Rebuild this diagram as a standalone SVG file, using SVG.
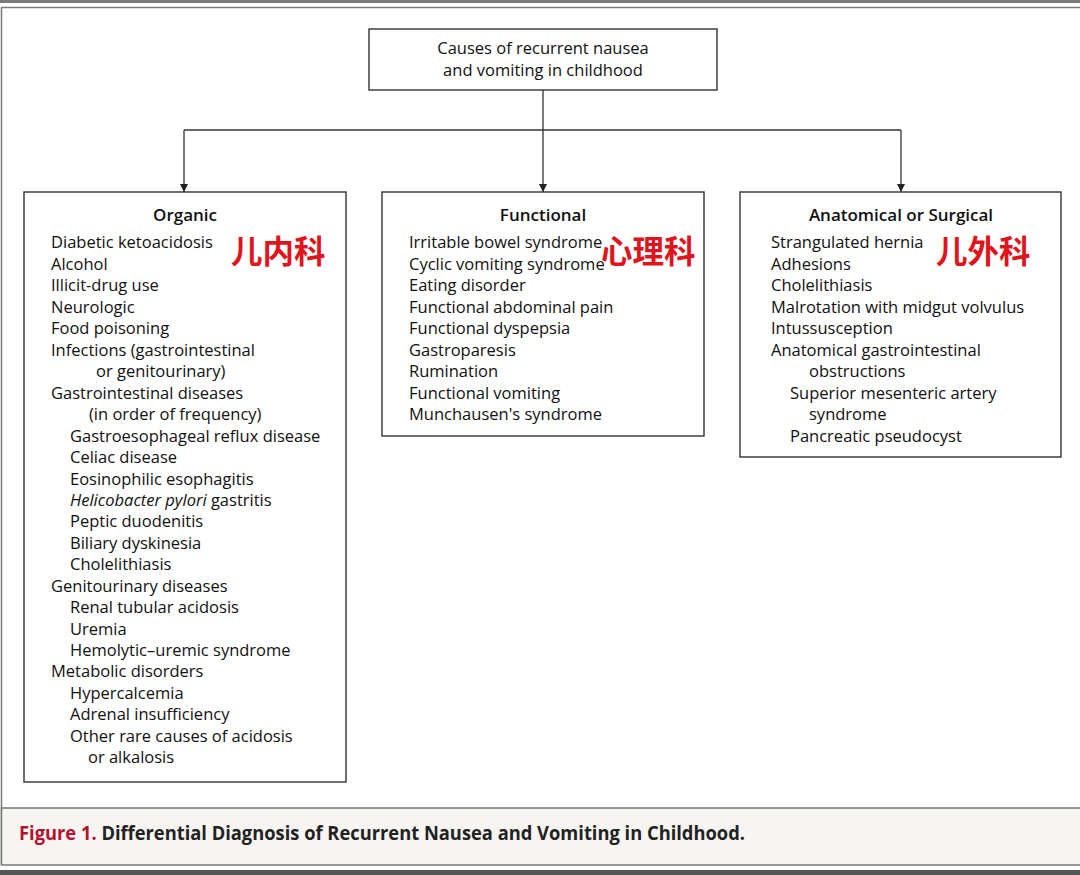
<svg xmlns="http://www.w3.org/2000/svg" width="1080" height="875" viewBox="0 0 1080 875">
<defs>
<marker id="arr" viewBox="0 0 8 16" refX="8" refY="8" markerWidth="8" markerHeight="16" markerUnits="userSpaceOnUse" orient="auto">
<path d="M0,4 L8,8 L0,12 Z" fill="#222"/>
</marker>
<style>
.box{fill:#fff;stroke:#333;stroke-width:1.4}
.t{font-family:"Open Sans","DejaVu Sans",sans-serif;font-size:16.5px;fill:#111}
.h{font-family:"Open Sans","DejaVu Sans",sans-serif;font-size:17px;font-weight:600;fill:#111;text-anchor:middle}
.cn{font-family:"Noto Sans CJK SC",sans-serif;font-size:31.5px;font-weight:700;fill:#e0141c}
.conn{fill:none;stroke:#333;stroke-width:1.3}
</style>
</defs>
<rect x="0" y="0" width="1080" height="875" fill="#fff"/>
<rect x="0" y="0" width="1080" height="3" fill="#7a7a7a"/>
<rect x="0" y="870" width="1080" height="5" fill="#555"/>
<path d="M1080,7.5 H1.5 V865" fill="none" stroke="#777" stroke-width="1.5"/>
<rect x="1.5" y="808" width="1080" height="57" fill="#f7f5f2" stroke="#777" stroke-width="1.5"/>
<g id="caption">
<text x="19" y="840" font-family="'Liberation Sans Narrow','Open Sans',sans-serif" font-size="19" font-weight="700" textLength="726" lengthAdjust="spacingAndGlyphs"><tspan fill="#b3122e">Figure 1.</tspan><tspan fill="#222"> Differential Diagnosis of Recurrent Nausea and Vomiting in Childhood.</tspan></text>
</g>
<g id="connectors">
<path class="conn" d="M543,90 V192" marker-end="url(#arr)"/>
<path class="conn" d="M184,130 H901"/>
<path class="conn" d="M184,130 V192" marker-end="url(#arr)"/>
<path class="conn" d="M901,130 V192" marker-end="url(#arr)"/>
</g>
<g id="root">
<rect class="box" x="369" y="29" width="348" height="61"/>
<text class="t" x="543" y="54" text-anchor="middle">Causes of recurrent nausea</text>
<text class="t" x="543" y="76" text-anchor="middle">and vomiting in childhood</text>
</g>
<g id="organic">
<rect class="box" x="24" y="192" width="322" height="590"/>
<text class="h" x="185" y="221">Organic</text>
<text class="t" x="51" y="248">Diabetic ketoacidosis</text>
<text class="t" x="51" y="270">Alcohol</text>
<text class="t" x="51" y="291">Illicit-drug use</text>
<text class="t" x="51" y="313">Neurologic</text>
<text class="t" x="51" y="334">Food poisoning</text>
<text class="t" x="51" y="356">Infections (gastrointestinal</text>
<text class="t" x="96" y="377">or genitourinary)</text>
<text class="t" x="51" y="399">Gastrointestinal diseases</text>
<text class="t" x="89" y="420">(in order of frequency)</text>
<text class="t" x="70" y="442">Gastroesophageal reflux disease</text>
<text class="t" x="70" y="463">Celiac disease</text>
<text class="t" x="70" y="485">Eosinophilic esophagitis</text>
<text class="t" x="70" y="506"><tspan font-style="italic">Helicobacter pylori</tspan> gastritis</text>
<text class="t" x="70" y="527">Peptic duodenitis</text>
<text class="t" x="70" y="549">Biliary dyskinesia</text>
<text class="t" x="70" y="570">Cholelithiasis</text>
<text class="t" x="51" y="592">Genitourinary diseases</text>
<text class="t" x="70" y="613">Renal tubular acidosis</text>
<text class="t" x="70" y="635">Uremia</text>
<text class="t" x="70" y="656">Hemolytic–uremic syndrome</text>
<text class="t" x="51" y="677">Metabolic disorders</text>
<text class="t" x="70" y="699">Hypercalcemia</text>
<text class="t" x="70" y="720">Adrenal insufficiency</text>
<text class="t" x="70" y="742">Other rare causes of acidosis</text>
<text class="t" x="88" y="763">or alkalosis</text>
<text class="cn" x="231" y="263">儿内科</text>
</g>
<g id="functional">
<rect class="box" x="382" y="192" width="322" height="244"/>
<text class="h" x="543" y="221">Functional</text>
<text class="t" x="409" y="248">Irritable bowel syndrome</text>
<text class="t" x="409" y="270">Cyclic vomiting syndrome</text>
<text class="t" x="409" y="291">Eating disorder</text>
<text class="t" x="409" y="313">Functional abdominal pain</text>
<text class="t" x="409" y="334">Functional dyspepsia</text>
<text class="t" x="409" y="356">Gastroparesis</text>
<text class="t" x="409" y="377">Rumination</text>
<text class="t" x="409" y="399">Functional vomiting</text>
<text class="t" x="409" y="420">Munchausen's syndrome</text>
<text class="cn" x="601" y="263">心理科</text>
</g>
<g id="anatomical">
<rect class="box" x="740" y="192" width="321" height="265"/>
<text class="h" x="901" y="221">Anatomical or Surgical</text>
<text class="t" x="771" y="248">Strangulated hernia</text>
<text class="t" x="771" y="270">Adhesions</text>
<text class="t" x="771" y="291">Cholelithiasis</text>
<text class="t" x="771" y="313">Malrotation with midgut volvulus</text>
<text class="t" x="771" y="334">Intussusception</text>
<text class="t" x="771" y="356">Anatomical gastrointestinal</text>
<text class="t" x="809" y="377">obstructions</text>
<text class="t" x="790" y="399">Superior mesenteric artery</text>
<text class="t" x="809" y="420">syndrome</text>
<text class="t" x="790" y="442">Pancreatic pseudocyst</text>
<text class="cn" x="936" y="263">儿外科</text>
</g>
</svg>
